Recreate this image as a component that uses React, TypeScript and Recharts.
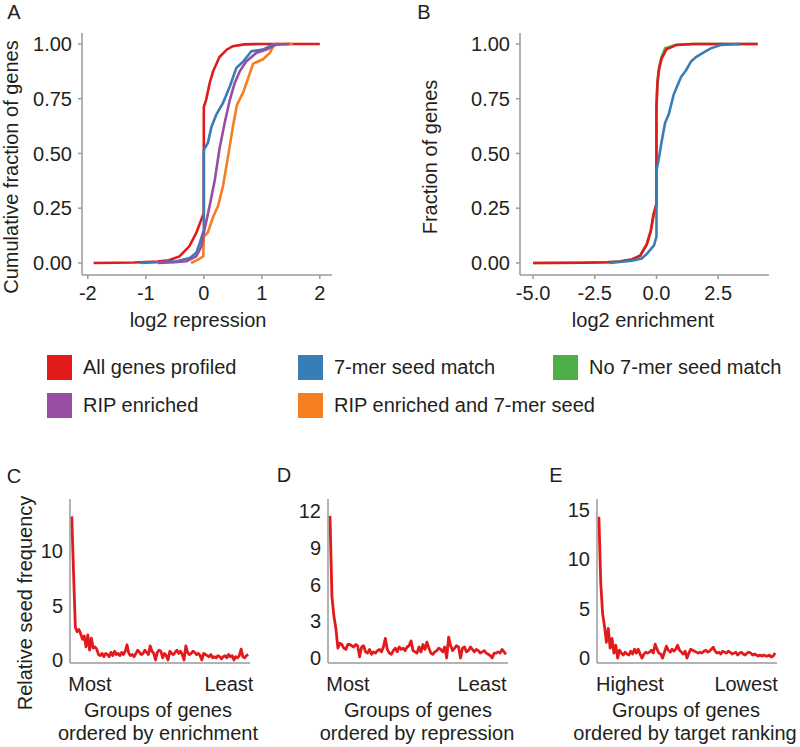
import { LineChart, Line, XAxis, YAxis } from 'recharts';

const FONT = '"Liberation Sans", Arial, Helvetica, sans-serif';
const INK = '#231f20';
const AXIS = '#9a9a9a';

const RED = '#e31a1c';
const BLUE = '#377eb8';
const GREEN = '#4daf4a';
const PURPLE = '#984ea3';
const ORANGE = '#f57f20';

// Panel A: cumulative fraction vs log2 repression
const A_ALL_X = [-1.9, -1.2, -0.8, -0.6, -0.42, -0.25, -0.13, -0.04, 0, 0, 0.04, 0.1, 0.16, 0.27, 0.4, 0.5, 0.7, 1.0, 2.0];
const A_ALL_Y = [0, 0.002, 0.006, 0.012, 0.03, 0.076, 0.137, 0.2, 0.228, 0.712, 0.745, 0.82, 0.875, 0.94, 0.975, 0.99, 0.998, 1, 1];
const A_SEED_X = [-1.1, -0.8, -0.47, -0.24, -0.13, -0.07, 0, 0, 0.07, 0.13, 0.22, 0.33, 0.45, 0.56, 0.68, 0.82, 1.02, 1.19, 1.3];
const A_SEED_Y = [0, 0.003, 0.008, 0.023, 0.046, 0.09, 0.15, 0.517, 0.548, 0.62, 0.68, 0.73, 0.807, 0.89, 0.92, 0.967, 0.974, 0.997, 1];
const A_RIP_X = [-0.79, -0.5, -0.3, -0.13, -0.04, 0.01, 0.1, 0.19, 0.27, 0.36, 0.45, 0.53, 0.62, 0.73, 0.91, 1.08, 1.25, 1.48];
const A_RIP_Y = [0, 0.003, 0.008, 0.03, 0.076, 0.15, 0.26, 0.38, 0.52, 0.64, 0.746, 0.82, 0.875, 0.92, 0.96, 0.974, 0.997, 1];
const A_BOTH_X = [-0.22, -0.1, -0.01, 0, 0.07, 0.16, 0.245, 0.33, 0.42, 0.5, 0.57, 0.68, 0.76, 0.85, 1.02, 1.14, 1.22, 1.54];
const A_BOTH_Y = [0, 0.015, 0.03, 0.12, 0.14, 0.21, 0.26, 0.35, 0.49, 0.62, 0.72, 0.78, 0.84, 0.91, 0.93, 0.96, 1, 1];
const A_X_TICKS = [-2, -1, 0, 1, 2];
const FRAC_TICKS = [0, 0.25, 0.5, 0.75, 1];

// Panel B: fraction vs log2 enrichment
const B_ALL_X = [-5, -3, -2, -1.5, -1.0, -0.66, -0.39, -0.23, -0.12, 0, 0, 0.04, 0.1, 0.2, 0.4, 0.8, 1.5, 4.1];
const B_ALL_Y = [0, 0.001, 0.003, 0.007, 0.016, 0.033, 0.086, 0.146, 0.22, 0.27, 0.71, 0.82, 0.88, 0.93, 0.975, 0.995, 1, 1];
const B_NOSEED_X = [-5, -3, -2, -1.5, -1.0, -0.66, -0.39, -0.23, -0.12, 0, 0, 0.04, 0.1, 0.2, 0.35, 0.8, 1.5, 4.1];
const B_NOSEED_Y = [0, 0.001, 0.003, 0.007, 0.016, 0.033, 0.086, 0.146, 0.22, 0.27, 0.72, 0.83, 0.89, 0.94, 0.98, 0.996, 1, 1];
const B_SEED_X = [-1.9, -1.0, -0.6, -0.4, -0.1, 0, 0, 0.1, 0.25, 0.35, 0.5, 0.7, 0.85, 1.0, 1.2, 1.4, 1.6, 1.9, 2.2, 2.6, 3.4];
const B_SEED_Y = [0, 0.01, 0.02, 0.04, 0.08, 0.12, 0.42, 0.48, 0.58, 0.64, 0.68, 0.77, 0.81, 0.85, 0.88, 0.92, 0.94, 0.96, 0.98, 0.995, 1];
const B_X_TICKS = [-5, -2.5, 0, 2.5];

// Panels C-E: relative seed frequency per gene group
const C_FREQ = [
  13.2, 8.0, 3.0, 2.6, 2.8, 2.4, 1.9, 2.2, 1.2, 2.3,
  0.9, 2.0, 1.1, 1.2, 1.0, 0.5, 0.4, 0.6, 0.3, 0.6,
  0.5, 0.3, 0.7, 0.4, 0.8, 0.5, 0.6, 0.4, 0.7, 0.5,
  0.8, 1.4, 0.6, 0.4, 0.5, 0.3, 0.6, 0.9, 0.7, 0.5,
  0.6, 0.9, 0.7, 0.5, 1.3, 0.8, 0.6, 0.0, 0.7, 0.9,
  0.8, 0.2, 0.6, 0.4, 0.0, 0.8, 0.6, 0.5, 0.7, 0.9,
  0.6, 0.8, 0.5, 0.0, 1.3, 0.7, 0.5, 0.6, 0.8, 0.7,
  0.5, 0.6, 0.4, 0.0, 0.6, 0.5, 0.4, 0.3, 0.5, 0.2,
  0.3, 0.2, 0.4, 0.3, 0.1, 0.3, 0.4, 0.2, 0.5, 0.3,
  0.4, 0.0, 0.3, 0.2, 0.4, 1.0, 0.3, 0.2, 0.4, 0.5,
];
const D_FREQ = [
  11.6, 5.0, 3.4, 2.4, 0.8, 1.2, 1.1, 0.8, 0.7, 1.1,
  1.1, 1.0, 0.9, 1.1, 1.0, 0.1, 0.9, 1.0, 0.5, 0.4,
  0.7, 0.3, 0.5, 0.4, 0.6, 0.7, 0.5, 0.9, 1.6, 0.7,
  0.4, 0.3, 0.6, 0.8, 0.5, 0.9, 0.7, 0.8, 0.6, 0.9,
  1.0, 1.4, 0.6, 0.5, 0.4, 0.9, 0.5, 1.1, 0.7, 1.3,
  0.8, 0.4, 0.3, 0.5, 0.6, 0.8, 0.7, 0.5, 0.9, 0.0,
  1.7, 1.0, 0.6, 0.8, 1.0, 0.9, 0.0, 0.8, 0.9, 0.5,
  0.6, 0.9, 0.7, 0.5, 0.7, 0.6, 0.4, 0.5, 0.6, 0.4,
  0.3, 0.2, 0.0, 0.4, 0.4, 0.5, 0.4, 0.7, 0.5, 0.3,
];
const E_FREQ = [
  14.3, 7.6, 4.5, 3.2, 1.6, 3.0, 1.0, 2.0, 0.5, 1.3,
  0.0, 0.8, 0.5, 0.3, 0.6, 0.4, 0.3, 0.7, 0.4, 0.9,
  0.5, 0.9, 0.4, 0.0, 0.4, 0.6, 0.5, 0.6, 0.8, 0.5,
  1.4, 0.9, 0.5, 0.4, 0.0, 0.6, 1.2, 0.8, 0.6, 0.9,
  0.7, 0.9, 1.3, 0.8, 0.6, 0.4, 0.7, 0.0, 0.5, 0.9,
  0.8, 0.7, 0.6, 0.5, 0.6, 0.5, 0.7, 0.8, 0.6, 0.7,
  0.9, 1.1, 0.7, 0.5, 0.6, 0.4, 0.7, 0.6, 0.5, 0.7,
  0.6, 0.4, 0.5, 0.6, 0.3, 0.5, 0.6, 0.4, 0.3, 0.5,
  0.6, 0.5, 0.3, 0.4, 0.3, 0.2, 0.3, 0.2, 0.3, 0.2,
  0.2, 0.3, 0.1, 0.2, 0.5,
];
const C_TICK_POS = [11.2, 89.2];
const C_TICK_LABELS = ['Most', 'Least'];
const D_TICK_POS = [10.1, 77.9];
const D_TICK_LABELS = ['Most', 'Least'];
const E_TICK_POS = [17.6, 79.5];
const E_TICK_LABELS = ['Highest', 'Lowest'];

const LEGEND_NAMES = ['All genes profiled', '7-mer seed match', 'No 7-mer seed match', 'RIP enriched', 'RIP enriched and 7-mer seed'];
const LEGEND_COLORS = [RED, BLUE, GREEN, PURPLE, ORANGE];

const pts = (xs: number[], ys: number[]) => xs.map((x, i) => ({ x, y: ys[i] }));
const seq = (vals: number[]) => vals.map((y, i) => ({ x: i + 1, y }));

const tickStyle = { fill: INK, fontSize: 20, fontFamily: FONT };
const axisLine = { stroke: AXIS, strokeWidth: 1.5 };

function Txt({ x, y, children, rotate = false }: any) {
  return (
    <div
      style={{
        position: 'absolute',
        left: x,
        top: y,
        transform: `translate(-50%, -50%)${rotate ? ' rotate(-90deg)' : ''}`,
        whiteSpace: 'nowrap',
        fontFamily: FONT,
        fontSize: 20,
        lineHeight: 1,
        color: INK,
      }}
    >
      {children}
    </div>
  );
}

function CdfPanel({ left, width, yAxisW, xDomain, xTicks, xFmt, series }: any) {
  return (
    <div style={{ position: 'absolute', left, top: 0 }}>
      <LineChart width={width} height={340} margin={{ top: 33, right: width - yAxisW - (xDomain.plotW), bottom: 0, left: 0 }}>
        <XAxis
          type="number"
          dataKey="x"
          domain={xDomain.d}
          allowDataOverflow
          ticks={xTicks}
          interval={0}
          tickFormatter={xFmt}
          height={65}
          tick={tickStyle}
          axisLine={axisLine}
          tickLine={{ stroke: AXIS, strokeWidth: 1.5 }}
          tickSize={4}
          tickMargin={7}
        />
        <YAxis
          type="number"
          dataKey="y"
          domain={[-0.055, 1.05]}
          allowDataOverflow
          ticks={FRAC_TICKS}
          interval={0}
          tickFormatter={(v: number) => v.toFixed(2)}
          width={yAxisW}
          tick={tickStyle}
          axisLine={axisLine}
          tickLine={{ stroke: AXIS, strokeWidth: 1.5 }}
          tickSize={4}
          tickMargin={6}
        />
        {series.map((s: any) => (
          <Line
            key={s.name}
            data={s.data}
            dataKey="y"
            name={s.name}
            type="linear"
            stroke={s.color}
            strokeWidth={2.6}
            dot={false}
            isAnimationActive={false}
          />
        ))}
      </LineChart>
    </div>
  );
}

function SeedPanel({ left, width, yAxisW, plotW, vals, yDomain, yTicks, tickPos, tickLabels }: any) {
  return (
    <div style={{ position: 'absolute', left, top: 480 }}>
      <LineChart width={width} height={267} margin={{ top: 19, right: width - yAxisW - plotW, bottom: 0, left: 0 }}>
        <XAxis
          type="number"
          dataKey="x"
          domain={[0, vals.length + 1]}
          allowDataOverflow
          ticks={tickPos}
          interval={0}
          tickFormatter={(_v: number, i: number) => tickLabels[i]}
          height={84}
          tick={tickStyle}
          axisLine={axisLine}
          tickLine={false}
          tickSize={4}
          tickMargin={10}
        />
        <YAxis
          type="number"
          dataKey="y"
          domain={yDomain}
          allowDataOverflow
          ticks={yTicks}
          interval={0}
          width={yAxisW}
          tick={tickStyle}
          axisLine={axisLine}
          tickLine={false}
          tickSize={4}
          tickMargin={3}
        />
        <Line
          data={seq(vals)}
          dataKey="y"
          type="linear"
          stroke={RED}
          strokeWidth={2.8}
          strokeLinejoin="round"
          dot={false}
          isAnimationActive={false}
        />
      </LineChart>
    </div>
  );
}

export default function App() {
  const seriesA = [
    { name: 'All genes profiled', color: RED, data: pts(A_ALL_X, A_ALL_Y) },
    { name: 'RIP enriched and 7-mer seed', color: ORANGE, data: pts(A_BOTH_X, A_BOTH_Y) },
    { name: '7-mer seed match', color: BLUE, data: pts(A_SEED_X, A_SEED_Y) },
    { name: 'RIP enriched', color: PURPLE, data: pts(A_RIP_X, A_RIP_Y) },
  ];
  const seriesB = [
    { name: 'No 7-mer seed match', color: GREEN, data: pts(B_NOSEED_X, B_NOSEED_Y) },
    { name: 'All genes profiled', color: RED, data: pts(B_ALL_X, B_ALL_Y) },
    { name: '7-mer seed match', color: BLUE, data: pts(B_SEED_X, B_SEED_Y) },
  ];
  const legendPos = [
    [47, 355], [298, 355], [553, 355], [47, 393], [298, 393],
  ];

  return (
    <div style={{ position: 'absolute', left: 0, top: 0, width: 800, height: 747, background: '#fff', overflow: 'hidden' }}>
      <CdfPanel
        left={0}
        width={340}
        yAxisW={82}
        xDomain={{ d: [-2.1, 2.21], plotW: 250 }}
        xTicks={A_X_TICKS}
        xFmt={(v: number) => String(v)}
        series={seriesA}
      />
      <CdfPanel
        left={400}
        width={400}
        yAxisW={120}
        xDomain={{ d: [-5.53, 4.56], plotW: 249 }}
        xTicks={B_X_TICKS}
        xFmt={(v: number) => v.toFixed(1)}
        series={seriesB}
      />

      <Txt x={14} y={12}>A</Txt>
      <Txt x={424} y={12}>B</Txt>
      <Txt x={11} y={167} rotate>Cumulative fraction of genes</Txt>
      <Txt x={198} y={320}>log2 repression</Txt>
      <Txt x={430} y={157} rotate>Fraction of genes</Txt>
      <Txt x={643} y={320}>log2 enrichment</Txt>

      {LEGEND_NAMES.map((name, i) => (
        <div key={name} style={{ position: 'absolute', left: legendPos[i][0], top: legendPos[i][1], display: 'flex', alignItems: 'center' }}>
          <div style={{ width: 25, height: 25, background: LEGEND_COLORS[i] }} />
          <span style={{ marginLeft: 11, fontFamily: FONT, fontSize: 20, color: INK, whiteSpace: 'nowrap' }}>{name}</span>
        </div>
      ))}

      <SeedPanel
        left={0}
        width={270}
        yAxisW={70}
        plotW={180}
        vals={C_FREQ}
        yDomain={[-0.28, 14.8]}
        yTicks={[0, 5, 10]}
        tickPos={C_TICK_POS}
        tickLabels={C_TICK_LABELS}
      />
      <SeedPanel
        left={270}
        width={260}
        yAxisW={58}
        plotW={180}
        vals={D_FREQ}
        yDomain={[-0.41, 12.98]}
        yTicks={[0, 3, 6, 9, 12]}
        tickPos={D_TICK_POS}
        tickLabels={D_TICK_LABELS}
      />
      <SeedPanel
        left={530}
        width={270}
        yAxisW={67}
        plotW={180}
        vals={E_FREQ}
        yDomain={[-0.5, 16.1]}
        yTicks={[0, 5, 10, 15]}
        tickPos={E_TICK_POS}
        tickLabels={E_TICK_LABELS}
      />

      <Txt x={14} y={476}>C</Txt>
      <Txt x={284} y={475}>D</Txt>
      <Txt x={556} y={475}>E</Txt>
      <Txt x={25} y={603} rotate>Relative seed frequency</Txt>
      <Txt x={158} y={710}>Groups of genes</Txt>
      <Txt x={158} y={733}>ordered by enrichment</Txt>
      <Txt x={418} y={710}>Groups of genes</Txt>
      <Txt x={417} y={733}>ordered by repression</Txt>
      <Txt x={686} y={710}>Groups of genes</Txt>
      <Txt x={685} y={733}>ordered by target ranking</Txt>
    </div>
  );
}
